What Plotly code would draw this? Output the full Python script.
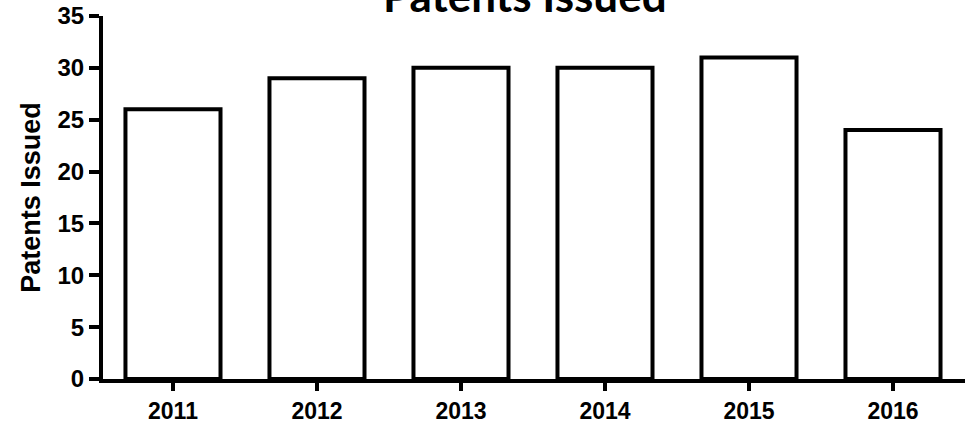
import plotly.graph_objects as go

years = ["2011", "2012", "2013", "2014", "2015", "2016"]
patents = [26, 29, 30, 30, 31, 24]
y_ticks = [0, 5, 10, 15, 20, 25, 30, 35]

fig = go.Figure(go.Bar(
    x=list(range(len(years))), y=patents,
    width=0.66,
    marker=dict(color="white", line=dict(color="black", width=4)),
))

fig.update_layout(
    width=971, height=423,
    margin=dict(l=103, r=6, t=16, b=44),
    plot_bgcolor="white", paper_bgcolor="white",
    showlegend=False,
    font=dict(family="Liberation Sans, Arial", color="black"),
)
fig.update_xaxes(
    range=[-0.486, 5.5], automargin=False,
    tickmode="array", tickvals=list(range(len(years))), ticktext=[f"<b>{y}</b>" for y in years],
    showline=True, linecolor="black", linewidth=4,
    ticks="outside", ticklen=8, tickwidth=4, tickcolor="black",
    tickfont=dict(size=23, family="Liberation Sans, Arial"),
    showgrid=False, zeroline=False,
)
fig.update_yaxes(
    range=[0, 35], automargin=False,
    tickmode="array", tickvals=y_ticks, ticktext=[f"<b>{v}</b>" for v in y_ticks],
    showline=True, linecolor="black", linewidth=4,
    ticks="outside", ticklen=10, tickwidth=4, tickcolor="black",
    tickfont=dict(size=24, family="Liberation Sans, Arial"),
    showgrid=False, zeroline=False,
    title=dict(text="<b>Patents Issued</b>", font=dict(size=27, family="Liberation Sans, Arial"), standoff=10),
)
fig.add_annotation(
    text="<b>Patents Issued</b>", xref="paper", yref="paper", x=0.49, y=1,
    xanchor="center", yanchor="bottom", yshift=-7, showarrow=False,
    font=dict(size=44, family="Lato", color="black"),
)
fig.write_html("out.html", post_script="document.body.style.margin='0';",
               config={"displayModeBar": False})
